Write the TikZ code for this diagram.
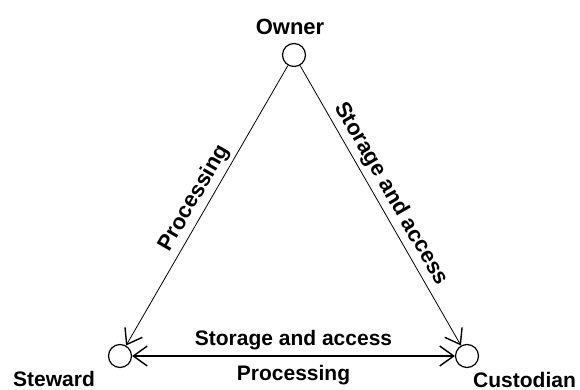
\documentclass[tikz,border=0pt]{standalone}
\usepackage{fontspec}
\setmainfont{Liberation Sans}
\usetikzlibrary{arrows.meta}
\begin{document}
\begin{tikzpicture}[x=1pt,y=-1pt,
  actor/.style={circle,draw,line width=1.2pt,minimum size=23pt,inner sep=0pt},
  lbl/.style={font=\fontsize{21}{24}\selectfont\bfseries,inner sep=0pt},
  biglbl/.style={font=\fontsize{22}{25}\selectfont\bfseries,inner sep=4pt},
  barb/.tip={Straight Barb[length=14pt,width=20pt,line width=1.4pt]},
  thinarr/.style={line width=0.8pt,-barb},
  thickarr/.style={line width=1.8pt,barb-barb}
]
\useasboundingbox (0,0) rectangle (580,390);
\node[actor] (O) at (294,55) {};
\node[actor] (S) at (120,356) {};
\node[actor] (C) at (467,356) {};
\node[lbl,font=\fontsize{22}{25}\selectfont\bfseries,anchor=base] (Olbl) at (290,35) {Owner};
\node[lbl,anchor=base] (Slbl) at (54,386) {Steward};
\node[lbl,anchor=base west] (Clbl) at (473,387) {Custodian};
\draw[thinarr] (O) -- (S) node[biglbl,pos=0.5,sloped,above] (p1) {Processing};
\draw[thinarr] (O) -- (C) node[biglbl,pos=0.485,sloped,above] (p2) {Storage and access};
\draw[thickarr] (S) -- (C)
  node[lbl,midway,anchor=base,yshift=11pt] (p3) {Storage and access}
  node[lbl,midway,anchor=base,yshift=-24pt] (p4) {Processing};
\end{tikzpicture}
\end{document}
